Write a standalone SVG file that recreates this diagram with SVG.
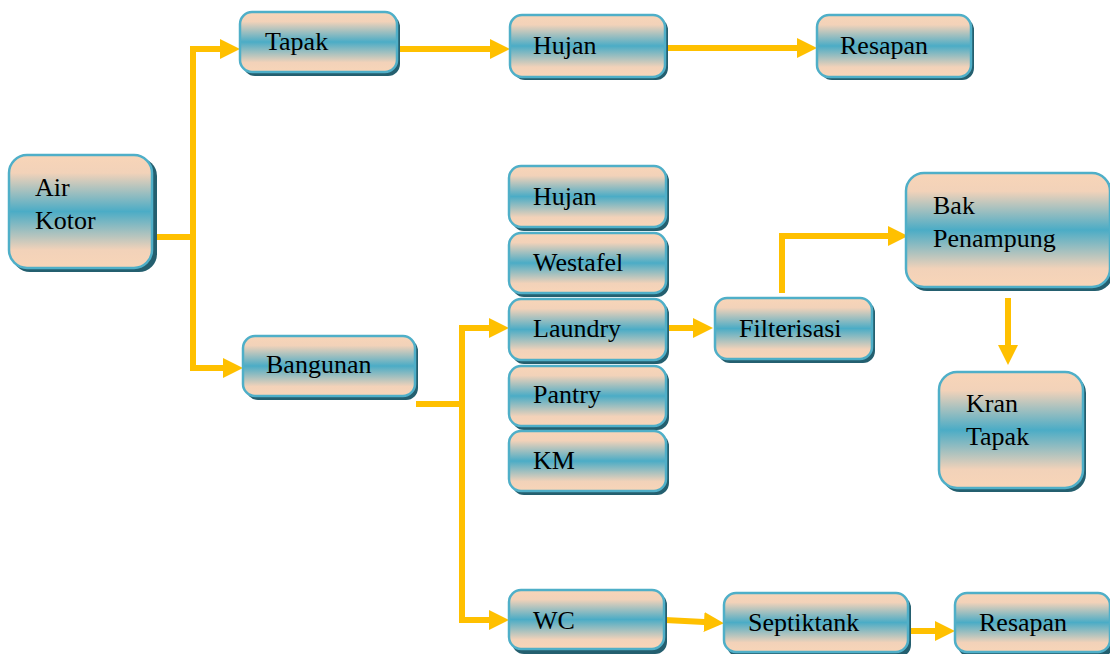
<svg xmlns="http://www.w3.org/2000/svg" width="1110" height="654" viewBox="0 0 1110 654">
<defs>
<linearGradient id="g" x1="0" y1="0" x2="0" y2="1">
<stop offset="0" stop-color="#F8D5B8"/>
<stop offset="0.16" stop-color="#F2D2B9"/>
<stop offset="0.5" stop-color="#4BACC6"/>
<stop offset="0.84" stop-color="#F2D2B9"/>
<stop offset="1" stop-color="#F8D5B8"/>
</linearGradient>
<marker id="ah" markerUnits="userSpaceOnUse" viewBox="0 0 20 20" refX="10" refY="10" markerWidth="20" markerHeight="20" orient="auto">
<path d="M0,0 L20,10 L0,20 Z" fill="#FFC000"/>
</marker>
<style>
.sh{fill:#245F6F}
.bx{fill:url(#g);stroke:#4FAFC8;stroke-width:2.5}
.t{font-size:26px;fill:#000}
.c{fill:none;stroke:#FFC000;stroke-width:6;stroke-linejoin:miter}
</style>
</defs>
<rect width="1110" height="654" fill="#fff"/>
<g id="connectors">
<path class="c" d="M153,237 H193 V49 H230" marker-end="url(#ah)"/>
<path class="c" d="M193,237 V368 H233" marker-end="url(#ah)"/>
<path class="c" d="M398,49 H500" marker-end="url(#ah)"/>
<path class="c" d="M667,48 H807" marker-end="url(#ah)"/>
<path class="c" d="M416,404 H462"/>
<path class="c" d="M462,404 V328 H499" marker-end="url(#ah)"/>
<path class="c" d="M462,404 V620 H499" marker-end="url(#ah)"/>
<path class="c" d="M668,328 H703" marker-end="url(#ah)"/>
<path class="c" d="M782,293 V236 H898" marker-end="url(#ah)"/>
<path class="c" d="M1008,298 V355" marker-end="url(#ah)"/>
<path class="c" d="M665,620 L714,622.6" marker-end="url(#ah)"/>
<path class="c" d="M910,631 H945" marker-end="url(#ah)"/>
</g>
<g font-family="'Times New Roman', 'Liberation Serif', 'DejaVu Serif', serif">
<g id="air-kotor"><rect class="sh" x="12" y="158" width="145" height="114" rx="18"/><rect class="bx" x="9" y="155" width="143" height="113" rx="18"/><text class="t" x="35" y="196">Air</text><text class="t" x="35" y="229">Kotor</text></g>
<g id="tapak"><rect class="sh" x="243" y="15" width="157" height="61" rx="12"/><rect class="bx" x="240" y="12" width="157" height="60" rx="12"/><text class="t" x="265" y="50">Tapak</text></g>
<g id="hujan1"><rect class="sh" x="513" y="18" width="155" height="62" rx="12"/><rect class="bx" x="510" y="15" width="155" height="62" rx="12"/><text class="t" x="533" y="54">Hujan</text></g>
<g id="resapan1"><rect class="sh" x="820" y="18" width="154" height="62" rx="12"/><rect class="bx" x="817" y="15" width="154" height="62" rx="12"/><text class="t" x="840" y="54">Resapan</text></g>
<g id="bangunan"><rect class="sh" x="246" y="339" width="172" height="61" rx="12"/><rect class="bx" x="243" y="336" width="172" height="60" rx="12"/><text class="t" x="266" y="373">Bangunan</text></g>
<g id="hujan2"><rect class="sh" x="512" y="169" width="157" height="62" rx="12"/><rect class="bx" x="509" y="166" width="157" height="61" rx="12"/><text class="t" x="533" y="205">Hujan</text></g>
<g id="westafel"><rect class="sh" x="512" y="236" width="157" height="61" rx="12"/><rect class="bx" x="509" y="233" width="157" height="60" rx="12"/><text class="t" x="533" y="271">Westafel</text></g>
<g id="laundry"><rect class="sh" x="512" y="302" width="157" height="62" rx="12"/><rect class="bx" x="509" y="299" width="157" height="61" rx="12"/><text class="t" x="533" y="337">Laundry</text></g>
<g id="pantry"><rect class="sh" x="512" y="369" width="157" height="61" rx="12"/><rect class="bx" x="509" y="366" width="157" height="60" rx="12"/><text class="t" x="533" y="403">Pantry</text></g>
<g id="km"><rect class="sh" x="512" y="434" width="157" height="61" rx="12"/><rect class="bx" x="509" y="431" width="157" height="60" rx="12"/><text class="t" x="533" y="469">KM</text></g>
<g id="wc"><rect class="sh" x="512" y="593" width="155" height="61" rx="12"/><rect class="bx" x="509" y="590" width="155" height="59" rx="12"/><text class="t" x="533" y="629">WC</text></g>
<g id="filterisasi"><rect class="sh" x="718" y="301" width="157" height="62" rx="12"/><rect class="bx" x="715" y="298" width="157" height="61" rx="12"/><text class="t" x="739" y="337">Filterisasi</text></g>
<g id="bak-penampung"><rect class="sh" x="909" y="176" width="204" height="115" rx="18"/><rect class="bx" x="906" y="173" width="204" height="114" rx="18"/><text class="t" x="933" y="214">Bak</text><text class="t" x="933" y="247">Penampung</text></g>
<g id="kran-tapak"><rect class="sh" x="942" y="375" width="144" height="117" rx="18"/><rect class="bx" x="939" y="372" width="144" height="116" rx="18"/><text class="t" x="966" y="412">Kran</text><text class="t" x="966" y="445">Tapak</text></g>
<g id="septiktank"><rect class="sh" x="727" y="596" width="184" height="61" rx="12"/><rect class="bx" x="724" y="593" width="184" height="59" rx="12"/><text class="t" x="748" y="631">Septiktank</text></g>
<g id="resapan2"><rect class="sh" x="958" y="596" width="155" height="61" rx="12"/><rect class="bx" x="955" y="593" width="155" height="59" rx="12"/><text class="t" x="979" y="631">Resapan</text></g>
</g>
</svg>
